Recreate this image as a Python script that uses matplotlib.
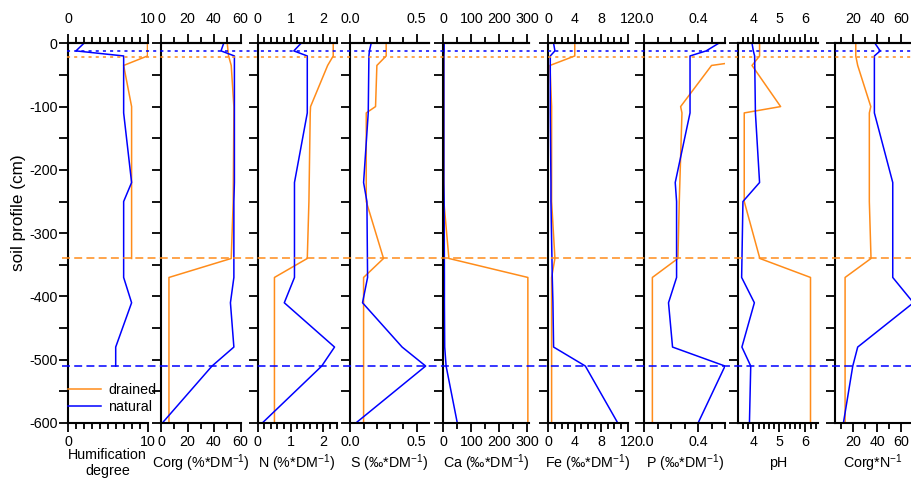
import numpy as np
import matplotlib
matplotlib.use("Agg")
import matplotlib.pyplot as plt
from matplotlib.ticker import MultipleLocator, FormatStrFormatter
from matplotlib.lines import Line2D
import matplotlib.transforms as mtransforms

plt.rcParams['font.family'] = ['Liberation Sans', 'DejaVu Sans']
plt.rcParams['font.size'] = 10.3
plt.rcParams['axes.unicode_minus'] = False

nan = np.nan

# sampling depths (cm)
depth_natural = [0, -12, -20, -110, -220, -250, -370, -410, -480, -510, -600]
depth_drained = [0, -20, -35, -100, -110, -250, -340, -370, -600]

# natural profile
hum_nat = [2, 1, 7, 7, 8, 7, 7, 8, 6, 6, nan]
corg_nat = [47.3, 45.3, 55.4, 55.4, 55.4, 55, 55, 52.4, 55, 38.5, 1]
n_nat = [1.32, 1.10, 1.51, 1.51, 1.12, 1.12, 1.12, 0.81, 2.34, 1.95, 0.14]
s_nat = [0.157, 0.144, 0.14, 0.135, 0.10, 0.125, 0.13, 0.092, 0.39, 0.567, 0.042]
ca_nat = [3, 3, 2, 2, 2, 3, 4, 4, 5, 10, 50]
fe_nat = [0.8, 1.0, 0.3, 0.3, 0.4, 0.4, 0.6, 0.7, 0.8, 5.6, 10.5]
p_nat = [0.553, 0.46, 0.34, 0.34, 0.23, 0.24, 0.24, 0.18, 0.21, 0.60, 0.40]
ph_nat = [3.95, 4.0, 4.05, 4.08, 4.24, 3.6, 3.55, 4.04, 3.56, 3.9, 3.85]
cn_nat = [38, 42.3, 37.5, 37.5, 52.8, 52.8, 52.8, 70, 23.6, 19.5, 11.7]

# drained profile
hum_dr = [10, 10, 7, 8, 8, 8, 8, nan, nan]
corg_dr = [50, 51, 53, 55, 55, 54.5, 53, 6, 6]
n_dr = [2.30, 2.30, 2.13, 1.61, 1.60, 1.56, 1.51, 0.51, 0.51]
s_dr = [0.27, 0.27, 0.20, 0.19, 0.12, 0.12, 0.25, 0.10, 0.10]
ca_dr = [2, 2, 2, 2, 2, 2, 20, 302, 302]
fe_dr = [4, 4, 0.25, 0.5, 0.5, 0.5, 1.0, 0.5, 0.5]
p_dr = [1.0, 1.0, 0.50, 0.27, 0.28, 0.26, 0.25, 0.06, 0.06]
ph_dr = [4.24, 4.24, 3.95, 5.05, 3.65, 3.65, 4.25, 6.2, 6.2]
cn_dr = [22, 22, 23.6, 34.5, 33.3, 33.3, 34.7, 13.1, 13.1]

# horizon boundaries
bound_nat_top = -12
bound_dr_top = -22
bound_dr_bot = -340
bound_nat_bot = -510

labels = ['Humification\ndegree',
          'Corg (%*DM$\\mathregular{^{-1}}$)',
          'N (%*DM$\\mathregular{^{-1}}$)',
          'S (‰*DM$\\mathregular{^{-1}}$)',
          'Ca (‰*DM$\\mathregular{^{-1}}$)',
          'Fe (‰*DM$\\mathregular{^{-1}}$)',
          'P (‰*DM$\\mathregular{^{-1}}$)',
          'pH',
          'Corg*N$\\mathregular{^{-1}}$']
natural = [hum_nat, corg_nat, n_nat, s_nat, ca_nat, fe_nat, p_nat, ph_nat, cn_nat]
drained = [hum_dr, corg_dr, n_dr, s_dr, ca_dr, fe_dr, p_dr, ph_dr, cn_dr]

# panel layout (pixels) and axis settings
W, H = 911, 483
px_left = [68, 161, 257.7, 350.3, 443.3, 548.3, 644.3, 738, 835]
px_right = [147.5, 240.5, 336.5, 428.7, 528.7, 627.7, 725, 818.3, 911]
xlims = [(0, 10), (0, 60), (0, 2.4), (0, 0.59), (0, 305), (0, 12), (0, 0.6), (3.41, 6.5), (4.7, 68)]
major = [10, 20, 1, 0.5, 100, 4, 0.4, 1, 20]
minor = [1, 10, 0.2, 0.1, 50, 1, 0.1, 0.2, 10]
fmts = [None, None, None, '%.1f', None, None, '%.1f', None, None]
y_top, y_bot = 43.3, 423

orange = '#ff8c1a'
blue = '#0000ff'


def style_xaxis(axis, i):
    axis.set_major_locator(MultipleLocator(major[i]))
    axis.set_minor_locator(MultipleLocator(minor[i]))
    if fmts[i]:
        axis.set_major_formatter(FormatStrFormatter(fmts[i]))


fig = plt.figure(figsize=(W / 100, H / 100), dpi=100)
axes = []
for i in range(9):
    ax = fig.add_axes([px_left[i] / W, 1 - y_bot / H,
                       (px_right[i] - px_left[i]) / W, (y_bot - y_top) / H])
    ax.plot(drained[i], depth_drained, color=orange, lw=1.1, label='drained')
    ax.plot(natural[i], depth_natural, color=blue, lw=1.1, label='natural')
    ax.set_xlim(*xlims[i])
    ax.set_ylim(-600, 0)
    ax.spines['right'].set_visible(False)
    for sp in ['left', 'top', 'bottom']:
        ax.spines[sp].set_linewidth(1.5)
    style_xaxis(ax.xaxis, i)
    ax.yaxis.set_major_locator(MultipleLocator(100))
    ax.yaxis.set_minor_locator(MultipleLocator(50))
    ax.tick_params(axis='x', which='both', direction='out', top=False, bottom=True,
                   labeltop=False, width=1.3, pad=2)
    ax.tick_params(axis='x', which='major', length=6.5)
    ax.tick_params(axis='x', which='minor', length=4)
    ax.tick_params(axis='y', which='both', direction='out', length=6.5, width=1.3,
                   right=False, labelleft=(i == 0), pad=1)

    top = ax.secondary_xaxis('top')
    style_xaxis(top.xaxis, i)
    top.spines['top'].set_linewidth(1.5)
    top.tick_params(axis='x', which='both', direction='out', width=1.3, pad=6)
    top.tick_params(axis='x', which='major', length=6.5)
    top.tick_params(axis='x', which='minor', length=4)

    ax.set_xlabel(labels[i], linespacing=1.2)
    ax.xaxis.set_label_coords(0.5, -0.105)
    ax.xaxis.label.set_va('center')
    ax.patch.set_visible(False)
    axes.append(ax)

ax1 = axes[0]
ax1.legend(loc='lower left', bbox_to_anchor=(0, 0.025), frameon=False,
           borderpad=0, borderaxespad=0, handlelength=2.3, handletextpad=0.5,
           labelspacing=0.2)

fig.text(19 / W, 1 - 213 / H, 'soil profile (cm)', rotation=90,
         ha='center', va='center', fontsize=12.3)

# horizon boundaries across all panels
tr = mtransforms.blended_transform_factory(fig.transFigure, ax1.transData)
x0 = 67 / W
fig.add_artist(Line2D([x0, 1], [bound_nat_top] * 2, transform=tr, color=blue,
                      lw=1.1, linestyle=(0, (2, 2.7))))
fig.add_artist(Line2D([x0, 1], [bound_dr_top] * 2, transform=tr, color=orange,
                      lw=1.1, linestyle=(0, (2, 2.7))))
fig.add_artist(Line2D([62 / W, 1], [bound_dr_bot] * 2, transform=tr, color=orange,
                      lw=1.1, linestyle=(0, (5.2, 2.8))))
fig.add_artist(Line2D([62 / W, 1], [bound_nat_bot] * 2, transform=tr, color=blue,
                      lw=1.1, linestyle=(0, (5.2, 2.8))))

fig.savefig('out.png', dpi=100)
